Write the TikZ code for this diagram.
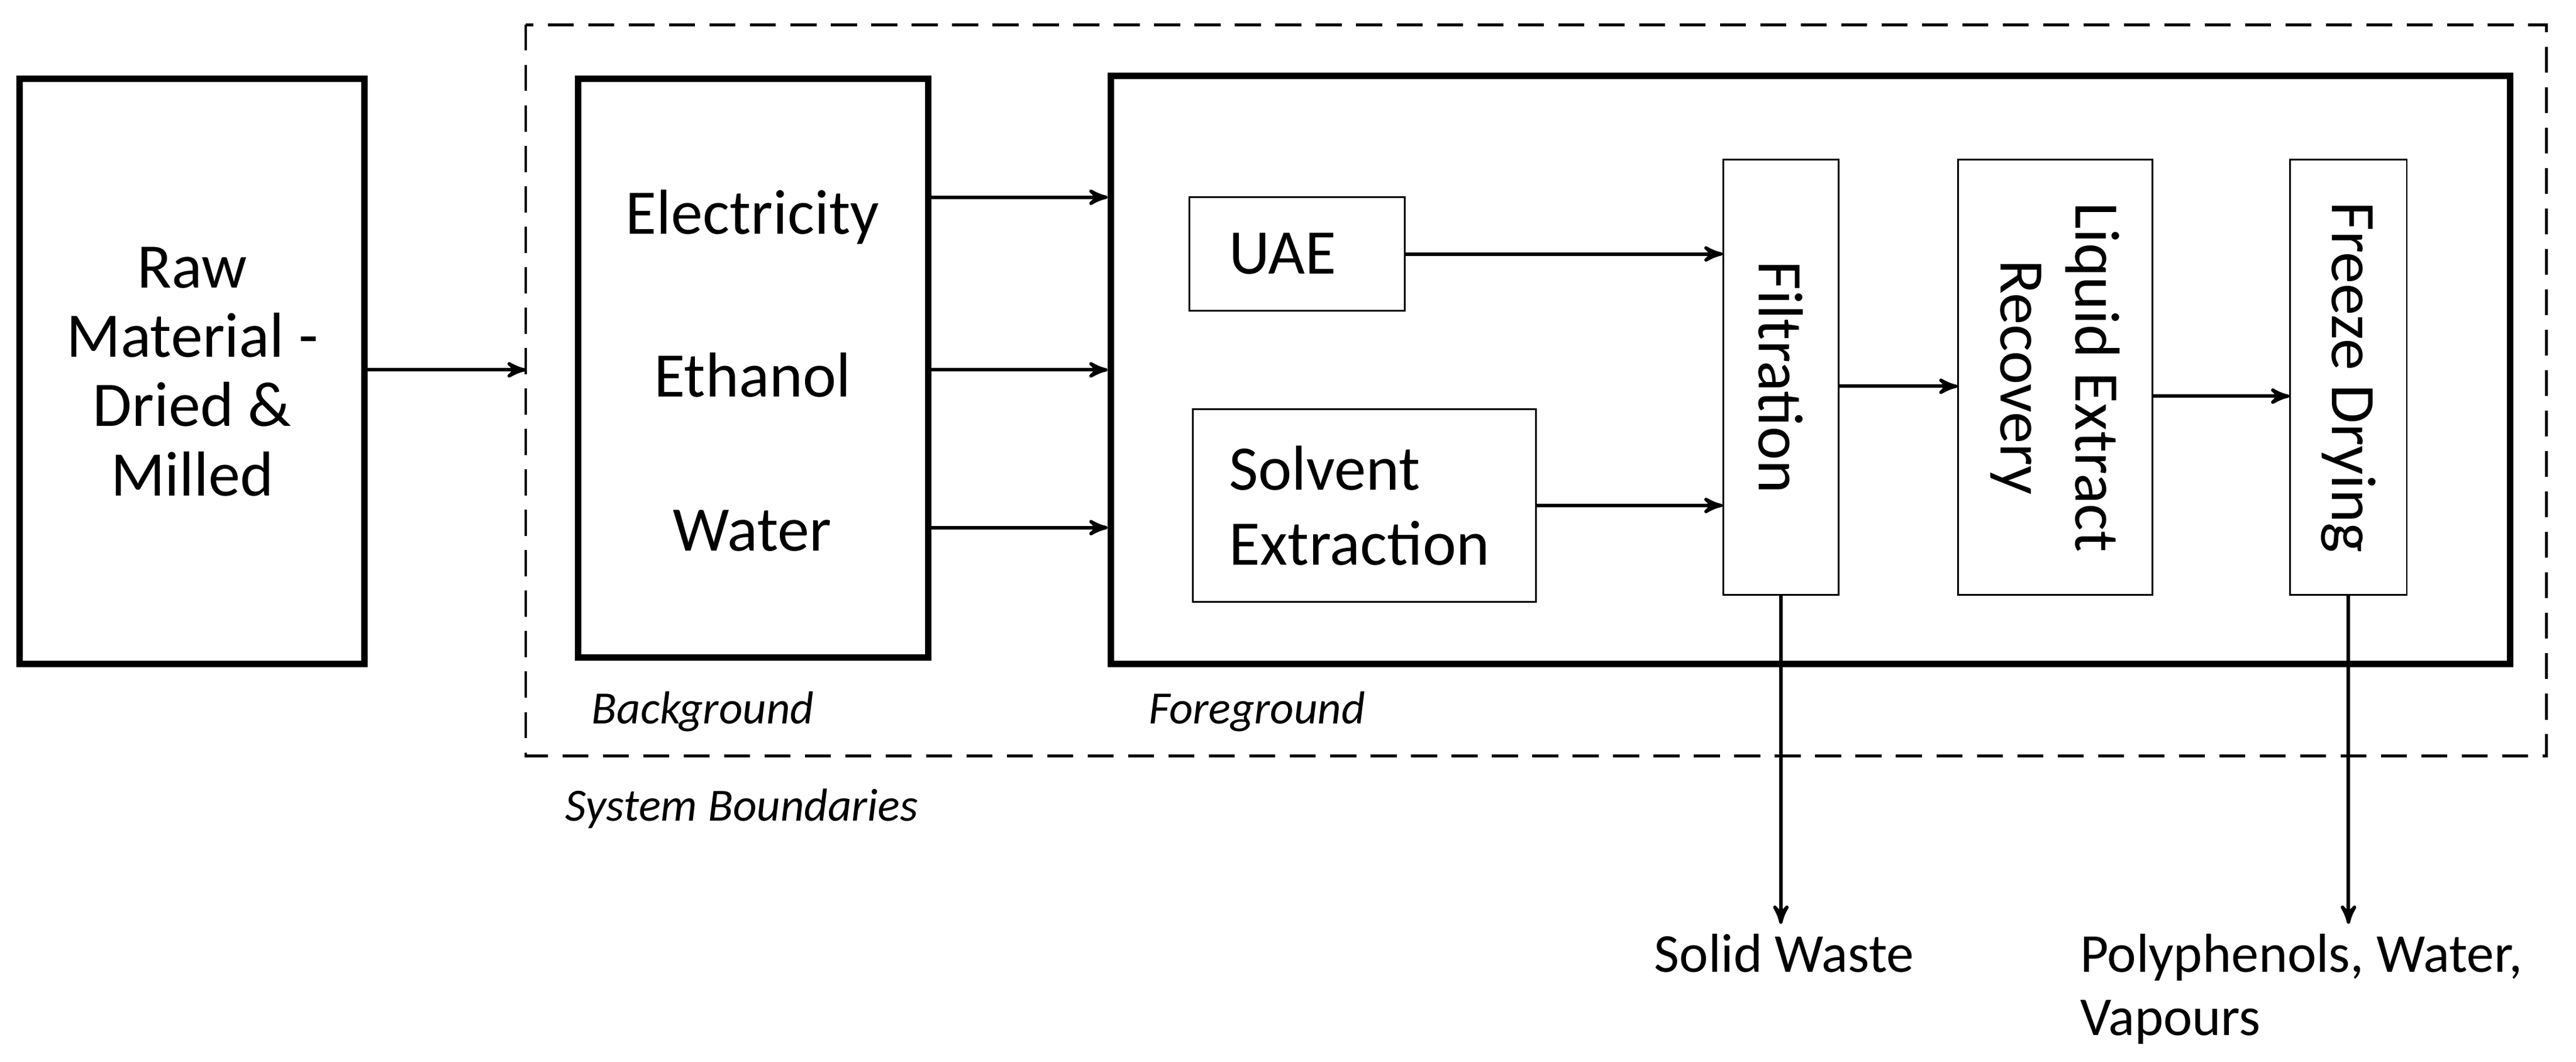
\documentclass[tikz,border=0pt]{standalone}
\usepackage{fontspec}
\setmainfont{Carlito}
\usetikzlibrary{positioning,arrows}

\begin{document}
\begin{tikzpicture}[x=0.02cm, y=-0.02cm,
% Box styles
		bigbox/.style={rectangle
							    , draw=black, line width=2.2pt
							    , align=center
							    , font=\fontsize{22}{24}\selectfont},
		proc/.style={rectangle
							    , draw=black, line width=0.6pt
							    , align=center
							    , font=\fontsize{22}{26}\selectfont},
		txt/.style={font=\fontsize{22}{26}\selectfont, align=left},
		note/.style={font=\itshape\fontsize{16}{18}\selectfont, anchor=west},
		flow/.style={line width=1.2pt, ->, >=stealth'}
	]
	\useasboundingbox (0,0) rectangle (1568,646);
%% Boundaries and main boxes
	\draw[dash pattern=on 9pt off 5pt, line width=1pt] (320,15) rectangle (1550,460);
	\node[bigbox, minimum width=4.2cm, minimum height=7.12cm] (raw) at (117,226) {Raw\\Material -\\Dried \&\\Milled};
	\node[bigbox, minimum width=4.26cm, minimum height=7.04cm] (bg) at (458.5,224) {};
	\node[bigbox, minimum width=17.04cm, minimum height=7.16cm] (fg) at (1102,225) {};
	\node[txt] (elec) at (458,132) {Electricity};
	\node[txt] (eth) at (458,228) {Ethanol};
	\node[txt] (wat) at (458,323) {Water};
%% Process steps
	\node[proc, minimum width=2.62cm, minimum height=1.38cm] (uae) at (789.5,154.5) {};
	\node[proc, minimum width=4.18cm, minimum height=2.34cm] (solv) at (830.5,307.5) {};
	\node[txt, anchor=west] (uael) at (742,154.5) {UAE};
	\node[txt, anchor=west] (solvl) at (742,307.5) {Solvent\\Extraction};
	\node[proc, minimum width=1.4cm, minimum height=5.3cm] (filt) at (1084,229.5) {};
	\node[proc, minimum width=2.36cm, minimum height=5.3cm] (ler) at (1251,229.5) {};
	\node[proc, minimum width=1.42cm, minimum height=5.3cm] (fd) at (1429.5,229.5) {};
	\node[txt, rotate=-90] (filtl) at (filt.center) {Filtration};
	\node[txt, rotate=-90, align=center] (lerl) at (ler.center) {Liquid Extract\\Recovery};
	\node[txt, rotate=-90] (fdl) at (fd.center) {Freeze Drying};
%% Outputs and notes
	\node[txt, anchor=north, font=\fontsize{19}{22}\selectfont] (waste) at (1086,562) {Solid Waste};
	\node[txt, anchor=north west, font=\fontsize{19}{22}\selectfont] (poly) at (1260,562) {Polyphenols, Water,\\Vapours};
	\node[note] (bgl) at (354,433) {Background};
	\node[note] (fgl) at (693,433) {Foreground};
	\node[note] (sysl) at (338,492) {System Boundaries};
	\coordinate (sysin) at (320,225);
%% Flows
	\draw[flow] (raw.east |- sysin) -- (sysin);
	\draw[flow] (bg.east |- {(0,120)}) -- (fg.west |- {(0,120)});
	\draw[flow] (bg.east |- {(0,225)}) -- (fg.west |- {(0,225)});
	\draw[flow] (bg.east |- {(0,321)}) -- (fg.west |- {(0,321)});
	\draw[flow] (uae.east) -- (filt.west |- uae.east);
	\draw[flow] (solv.east) -- (filt.west |- solv.east);
	\draw[flow] (filt.east |- {(0,235)}) -- (ler.west |- {(0,235)});
	\draw[flow] (ler.east |- {(0,241)}) -- (fd.west |- {(0,241)});
	\draw[flow] (filt.south) -- (filt.south |- waste.north);
	\draw[flow] (fd.south) -- (fd.south |- poly.north);
\end{tikzpicture}
\end{document}
